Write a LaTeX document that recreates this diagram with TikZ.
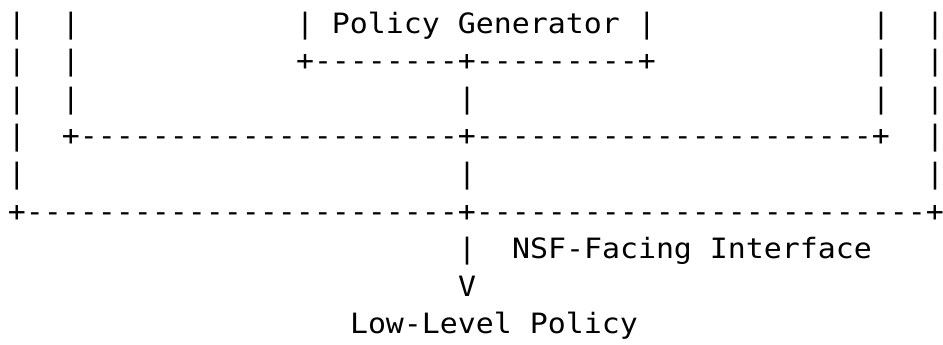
\documentclass[tikz,border=0pt]{standalone}
\usepackage{fontspec}
\newfontfamily\asciifont[FakeStretch=1.0678,Ligatures=TeXOff]{DejaVu Sans Mono}

\begin{document}
\begin{tikzpicture}[x=9pt,y=-18.8pt]
\tikzset{
    art/.style={inner sep=0pt, outer sep=0pt, anchor=base west, text=black, font=\asciifont\fontsize{14}{16}\selectfont},
    bar/.style={art}
}

\useasboundingbox[fill=white] (-0.444,-0.878) rectangle (51.944,8.271);

% Row 1: generator box text
\node[bar] (oL1) at (0,0) {|};
\node[bar] (iL1) at (3,0) {|};
\node[art] (gen) at (16,0) {| Policy Generator |};
\node[bar] (iR1) at (48,0) {|};
\node[bar] (oR1) at (51,0) {|};

% Row 2: generator box bottom
\node[bar] (oL2) at (0,1) {|};
\node[bar] (iL2) at (3,1) {|};
\node[art] (genB) at (16,1) {+--------+---------+};
\node[bar] (iR2) at (48,1) {|};
\node[bar] (oR2) at (51,1) {|};

% Row 3
\node[bar] (oL3) at (0,2) {|};
\node[bar] (iL3) at (3,2) {|};
\node[bar] (mid3) at (25,2) {|};
\node[bar] (iR3) at (48,2) {|};
\node[bar] (oR3) at (51,2) {|};

% Row 4: inner box bottom
\node[bar] (oL4) at (0,3) {|};
\node[art] (inB) at (3,3) {+---------------------+----------------------+};
\node[bar] (oR4) at (51,3) {|};

% Row 5
\node[bar] (oL5) at (0,4) {|};
\node[bar] (mid5) at (25,4) {|};
\node[bar] (oR5) at (51,4) {|};

% Row 6: outer box bottom
\node[art] (outB) at (0,5) {+------------------------+-------------------------+};

% Interface arrow and output
\node[bar] (mid7) at (25,6) {|};
\node[art] (nsf) at (28,6) {NSF-Facing Interface};
\node[art] (tip) at (25,7) {V};
\node[art] (low) at (19,8) {Low-Level Policy};
\end{tikzpicture}
\end{document}
